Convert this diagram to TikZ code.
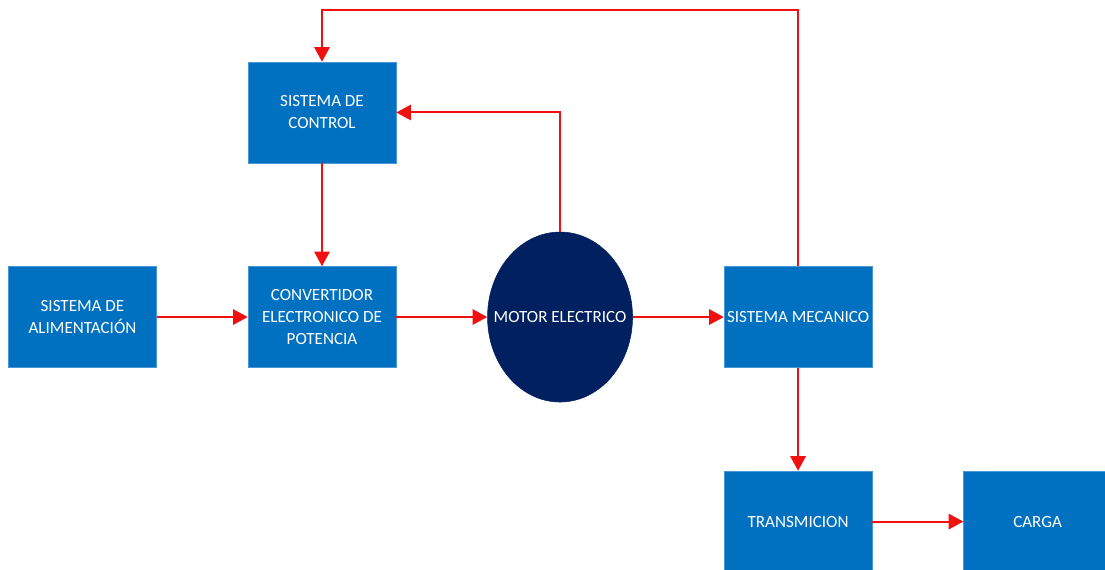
\documentclass[tikz,border=0pt]{standalone}
\usepackage{fontspec}
\setmainfont{Carlito}
\usetikzlibrary{arrows.meta,positioning,shapes.geometric}
\definecolor{cbox}{HTML}{0070C0}
\definecolor{cboxD}{HTML}{4A97D6}
\definecolor{cmotor}{HTML}{002060}
\definecolor{cline}{HTML}{F01010}
\tikzset{
  bloque/.style={draw=cboxD, fill=cbox, text=white, align=center, line width=0.4pt,
                 minimum width=111pt, minimum height=75.75pt, inner sep=2pt,
                 font=\fontsize{12.8}{16.5}\selectfont},
  motor/.style={ellipse, draw=cmotor, fill=cmotor, text=white, inner xsep=-20pt,
                inner ysep=0pt, minimum width=108.75pt, minimum height=127.5pt,
                font=\fontsize{12.8}{16.5}\selectfont},
  flujo/.style={-{Triangle[length=11pt,width=11.5pt]}, draw=cline, line width=1.5pt},
}

\begin{document}
\begin{tikzpicture}[x=0.75pt, y=-0.75pt, node distance=77.25pt and 68.25pt]
  \useasboundingbox (0,0) rectangle (1105,570);
  \clip (0,0) rectangle (1105,570);
  \node[bloque] (control) at (322,112.5) {SISTEMA DE\\CONTROL};
  \node[bloque, below=of control] (conv) {CONVERTIDOR\\ELECTRONICO DE\\POTENCIA};
  \node[bloque, left=of conv] (alim) {SISTEMA DE\\ALIMENTACIÓN};
  \node[motor, right=of conv] (motor) {MOTOR ELECTRICO};
  \node[bloque, right=of motor] (meca) {SISTEMA MECANICO};
  \node[bloque, below=of meca] (trans) {TRANSMICION};
  \node[bloque, right=of trans] (carga) {CARGA};
  \coordinate (lazo) at (560,10);
  \foreach \p/\q in {alim/conv,conv/motor,motor/meca,control/conv,meca/trans,trans/carga}
    \draw[flujo] (\p)--(\q);
  \draw[flujo] (motor.north) |- (control.east);
  \draw[flujo] (meca.north) |- (lazo) -| (control.north);
\end{tikzpicture}
\end{document}
